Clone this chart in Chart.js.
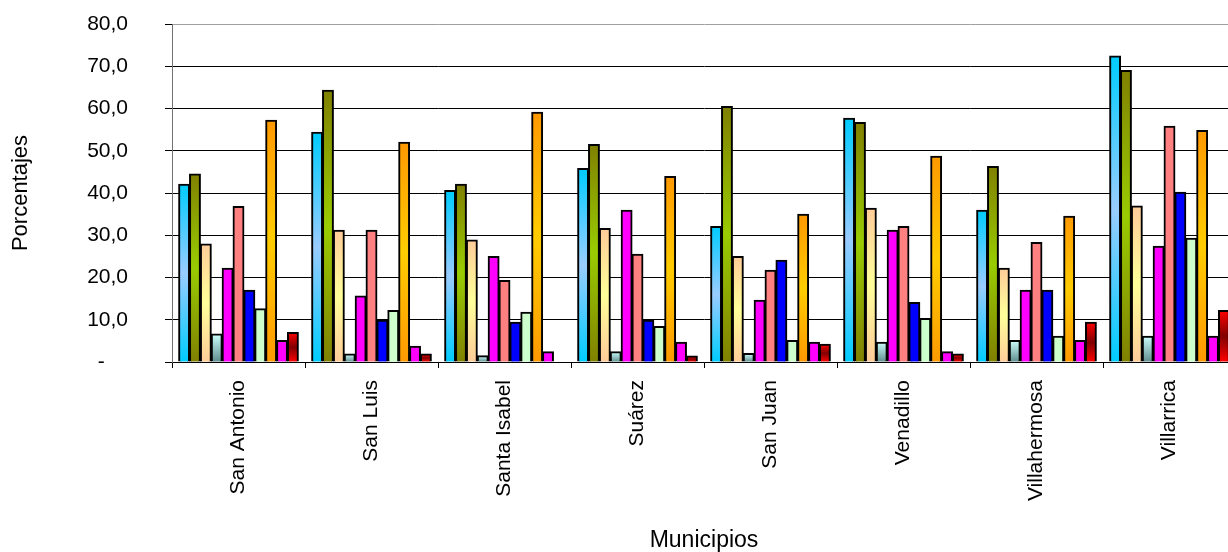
<!DOCTYPE html>
<html>
<head>
<meta charset="utf-8">
<script src="https://cdn.jsdelivr.net/npm/chart.js@4.4.1/dist/chart.umd.min.js"></script>
<style>
  html, body { margin: 0; padding: 0; background: #fff; overflow: hidden; }
  #wrap { width: 1240px; height: 552px; }
</style>
</head>
<body>
<div id="wrap"><canvas id="chart" width="1240" height="552"></canvas></div>
<script>
var municipios = ['San Antonio', 'San Luis', 'Santa Isabel', 'Suárez', 'San Juan', 'Venadillo', 'Villahermosa', 'Villarrica'];
var yTickLabels = ['-', '10,0', '20,0', '30,0', '40,0', '50,0', '60,0', '70,0', '80,0'];

var serie1 = [42.1, 54.4, 40.6, 45.8, 32.1, 57.7, 35.9, 72.4];
var serie2 = [44.5, 64.3, 42.1, 51.5, 60.5, 56.7, 46.3, 69.0];
var serie3 = [27.9, 31.2, 28.9, 31.6, 25.0, 36.4, 22.2, 36.9];
var serie4 = [6.6, 1.9, 1.5, 2.4, 2.0, 4.7, 5.1, 6.1];
var serie5 = [22.2, 15.6, 25.0, 35.9, 14.6, 31.2, 17.0, 27.4];
var serie6 = [36.8, 31.2, 19.3, 25.5, 21.7, 32.1, 28.3, 55.8];
var serie7 = [17.0, 9.9, 9.4, 9.9, 24.1, 14.1, 17.0, 40.2];
var serie8 = [12.6, 12.2, 11.8, 8.4, 5.1, 10.3, 6.1, 29.3];
var serie9 = [57.2, 52.0, 59.1, 43.9, 35.0, 48.7, 34.5, 54.8];
var serie10 = [5.1, 3.7, 2.4, 4.7, 4.7, 2.4, 5.1, 6.1];
var serie11 = [7.0, 1.9, 0, 1.4, 4.2, 1.9, 9.4, 12.2];

// vertical gradient per bar, from its top down to the zero line
function grad(top, mid, bottom) {
  return function(c) {
    var chart = c.chart;
    if (!chart.chartArea || c.type !== 'data' || !chart.scales.y) return mid || top;
    var y0 = chart.scales.y.getPixelForValue(c.raw);
    var y1 = chart.scales.y.getPixelForValue(0);
    if (y1 - y0 < 2) return top;
    var g = chart.ctx.createLinearGradient(0, y0, 0, y1);
    g.addColorStop(0, top);
    if (mid) g.addColorStop(0.5, mid);
    g.addColorStop(1, bottom);
    return g;
  };
}

function serie(label, data, color) {
  return {
    label: label,
    data: data,
    backgroundColor: color,
    borderColor: '#000',
    borderWidth: 2,
    inflateAmount: 0.5,
    categoryPercentage: 0.9,
    barPercentage: 1.0
  };
}

var font = "'Liberation Sans', Arial, sans-serif";

var ctx = document.getElementById('chart').getContext('2d');
var chart = new Chart(ctx, {
  type: 'bar',
  data: {
    labels: municipios,
    datasets: [
      serie('Serie 1', serie1, grad('#00CCFF', '#99CCFF', '#00CCFF')),
      serie('Serie 2', serie2, grad('#808000', '#99CC00', '#808000')),
      serie('Serie 3', serie3, grad('#FFCC99', '#FFFF99', '#FFCC99')),
      serie('Serie 4', serie4, grad('#CCFFFF', null, '#5F8C8C')),
      serie('Serie 5', serie5, '#FF00FF'),
      serie('Serie 6', serie6, '#FF8080'),
      serie('Serie 7', serie7, '#0000FF'),
      serie('Serie 8', serie8, '#CCFFCC'),
      serie('Serie 9', serie9, grad('#FF9900', '#FFCC00', '#FF9900')),
      serie('Serie 10', serie10, '#FF00FF'),
      serie('Serie 11', serie11, grad('#FF0000', '#800000', '#FF0000'))
    ]
  },
  options: {
    responsive: false,
    animation: false,
    layout: { padding: { left: 8, right: 4, top: 24, bottom: 0 } },
    plugins: {
      legend: { display: false },
      tooltip: { enabled: false }
    },
    scales: {
      x: {
        grid: {
          offset: true,
          drawOnChartArea: false,
          color: '#000',
          tickLength: 6
        },
        border: { color: '#000', width: 1 },
        ticks: {
          color: '#000',
          font: { family: font, size: 21 },
          minRotation: 90,
          maxRotation: 90,
          padding: 12,
          autoSkip: false
        },
        title: {
          display: true,
          text: 'Municipios',
          color: '#000',
          font: { family: font, size: 23, lineHeight: 1 },
          padding: { top: 0, bottom: 0 }
        },
        afterFit: function(scale) { scale.height = 190; }
      },
      y: {
        min: 0,
        max: 80,
        grid: {
          color: function(c) { return c.tick && c.tick.value === 80 ? '#A0A0A0' : '#000'; },
          tickColor: '#000',
          tickLength: 7,
          lineWidth: 1
        },
        border: { color: '#707070', width: 1 },
        ticks: {
          stepSize: 10,
          color: '#000',
          padding: 37,
          font: { family: font, size: 21 },
          callback: function(v) {
            var s = yTickLabels[Math.round(v / 10)];
            return s === '-' ? '-    ' : s;
          }
        },
        title: {
          display: true,
          text: 'Porcentajes',
          color: '#000',
          font: { family: font, size: 22 },
          padding: { top: 0, bottom: 52 }
        },
        afterFit: function(scale) {
          scale.width = 164;
          scale.paddingTop = 0;
          scale.paddingBottom = 0;
        }
      }
    }
  }
});
</script>
</body>
</html>
